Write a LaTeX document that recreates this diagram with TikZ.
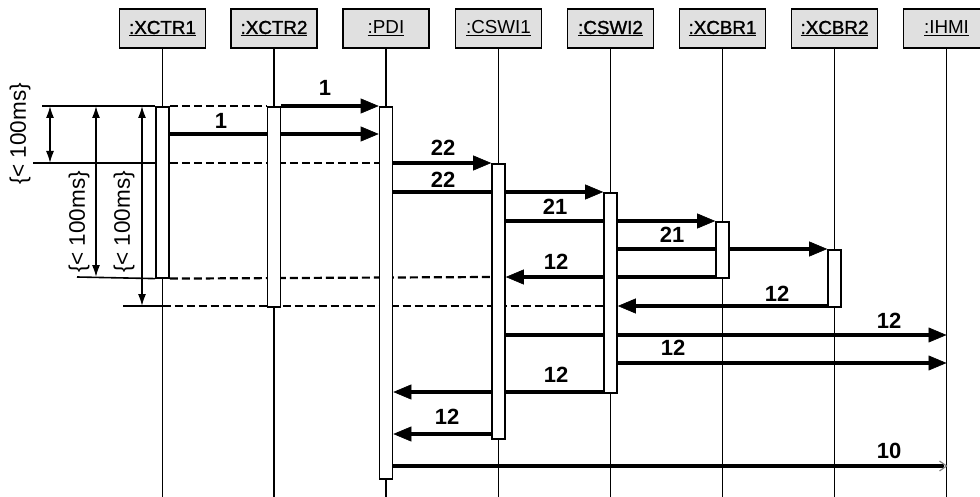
\documentclass[tikz,border=0pt]{standalone}
\usepackage{fontspec}
\setmainfont{Liberation Sans}
\newfontfamily\hdrsemi[FakeBold=1.4]{Liberation Sans}
\usetikzlibrary{arrows.meta}
\definecolor{hdrfill}{RGB}{224,224,224}
\tikzset{
  hdr/.style={draw, line width=1.6pt, fill=hdrfill, minimum width=86pt, minimum height=39pt, inner sep=0pt, font=\fontsize{18.8}{20}\selectfont},
  life/.style={line width=1.6pt},
  bar/.style={draw, line width=1.6pt, fill=white, minimum width=13pt, inner sep=0pt, anchor=north},
  msg/.style={line width=4.6pt, -{Triangle[length=18pt,width=15pt,line width=0.6pt]}},
  sync/.style={line width=2.2pt, dash pattern=on 8pt off 4pt},
  ext/.style={line width=1.6pt},
  dim/.style={line width=1.6pt, {Latex[length=12pt,width=8pt]}-{Latex[length=12pt,width=8pt]}},
  num/.style={inner sep=0pt, font=\fontsize{22}{24}\selectfont\bfseries},
  dimlbl/.style={inner sep=0pt, rotate=90, font=\fontsize{22.5}{24}\selectfont},
}
\begin{document}
\begin{tikzpicture}[x=1pt,y=-1pt]
\useasboundingbox (0,0) rectangle (980,497);

% headers
\node[hdr] (h1) at (162.5,28.5) {\hdrsemi\underline{:XCTR1}};
\node[hdr] (h2) at (274,28.5) {\hdrsemi\underline{:XCTR2}};
\node[hdr] (h3) at (386,28.5) {\underline{:PDI}};
\node[hdr] (h4) at (498.5,28.5) {\underline{:CSWI1}};
\node[hdr] (h5) at (610.5,28.5) {\hdrsemi\underline{:CSWI2}};
\node[hdr] (h6) at (722.5,28.5) {\hdrsemi\underline{:XCBR1}};
\node[hdr] (h7) at (834.5,28.5) {\hdrsemi\underline{:XCBR2}};
\node[hdr] (h8) at (946.5,28.5) {\underline{:IHMI}};

% lifelines
\foreach \i in {1,...,8} {
  \coordinate (end\i) at (h\i.south |- 0,497);
  \draw[life] (h\i.south) -- (end\i);
}

% activation bars (named, for connector ends)
\path (h1.south |- 0,106) node[bar, minimum height=171pt] (a1) {};
\path (h2.south |- 0,106) node[bar, minimum height=200pt] (a2) {};
\path (h3.south |- 0,106) node[bar, minimum height=372pt] (a3) {};
\path (h4.south |- 0,163) node[bar, minimum height=275pt] (a4) {};
\path (h5.south |- 0,192) node[bar, minimum height=200pt] (a5) {};
\path (h6.south |- 0,221) node[bar, minimum height=56pt] (a6) {};
\path (h7.south |- 0,249) node[bar, minimum height=57pt] (a7) {};

% messages
\draw[msg] (a2.east |- 0,106) -- (a3.west |- 0,106);
\draw[msg] (a1.east |- 0,134) -- (a3.west |- 0,134);
\draw[msg] (a3.east |- 0,163) -- (a4.west |- 0,163);
\draw[msg] (a3.east |- 0,192) -- (a5.west |- 0,192);
\draw[msg] (a4.east |- 0,221) -- (a6.west |- 0,221);
\draw[msg] (a5.east |- 0,249) -- (a7.west |- 0,249);
\draw[msg] (a6.west |- 0,277) -- (a4.east |- 0,277);
\draw[msg] (a7.west |- 0,306) -- (a5.east |- 0,306);
\draw[msg] (a4.east |- 0,335) -- (h8.south |- 0,335);
\draw[msg] (a5.east |- 0,363) -- (h8.south |- 0,363);
\draw[msg] (a5.west |- 0,392) -- (a3.east |- 0,392);
\draw[msg] (a4.west |- 0,434) -- (a3.east |- 0,434);
\coordinate (t13) at (h8.south |- 0,466);
\draw[line width=4.6pt] (a3.east |- 0,466) -- ([xshift=-3pt]t13);
\draw[gray, line width=1.2pt] ([shift={(-7,-5)}]t13) -- (t13) -- ([shift={(-7,5)}]t13);

% dashed sync lines
\draw[sync] (a1.east |- 0,106) -- (a2.west |- 0,106);
\draw[sync] (a1.east |- 0,163) -- (a3.west |- 0,163);
\draw[sync] (a1.south east) -- (a4.west |- 0,277);
\draw[sync] (h1.south |- 0,306) -- (a5.west |- 0,306);

% activation bars on top
\foreach \b/\h in {a1/171,a2/200,a3/372,a4/275,a5/200,a6/56,a7/57} {
  \node[bar, minimum height=\h pt] at (\b.north) {};
}

% labels
\node[num] (l1) at (325,88) {1};
\node[num] (l2) at (221,121) {1};
\node[num] (l3) at (443,148) {22};
\node[num] (l4) at (443,180) {22};
\node[num] (l5) at (555,207) {21};
\node[num] (l6) at (672,235) {21};
\node[num] (l7) at (556,262) {12};
\node[num] (l8) at (777,294) {12};
\node[num] (l9) at (889,321) {12};
\node[num] (l10) at (673,348) {12};
\node[num] (l11) at (556,375) {12};
\node[num] (l12) at (447,417) {12};
\node[num] (l13) at (889,451) {10};

% extension lines
\coordinate (x1) at (42,106);
\coordinate (x2) at (33,163);
\coordinate (x3) at (77,277);
\coordinate (x4) at (123,306);
\draw[ext] (x1) -- (a1.north west);
\draw[ext] (x2) -- (a1.west |- x2);
\draw[ext] (x3) -- (a1.south west);
\draw[ext] (x4) -- (h1.south |- x4);

% dimension arrows
\coordinate (v1t) at (50,106); \coordinate (v1b) at (50,163);
\coordinate (v2t) at (96,106); \coordinate (v2b) at (96,277);
\coordinate (v3t) at (142,106); \coordinate (v3b) at (142,306);
\draw[dim] (v1t) -- (v1b);
\draw[dim] (v2t) -- (v2b);
\draw[dim] (v3t) -- (v3b);

\node[dimlbl] (dl1) at (20,134) {\{< 100ms\}};
\node[dimlbl] (dl2) at (79,222) {\{< 100ms\}};
\node[dimlbl] (dl3) at (124,222) {\{< 100ms\}};
\end{tikzpicture}
\end{document}
